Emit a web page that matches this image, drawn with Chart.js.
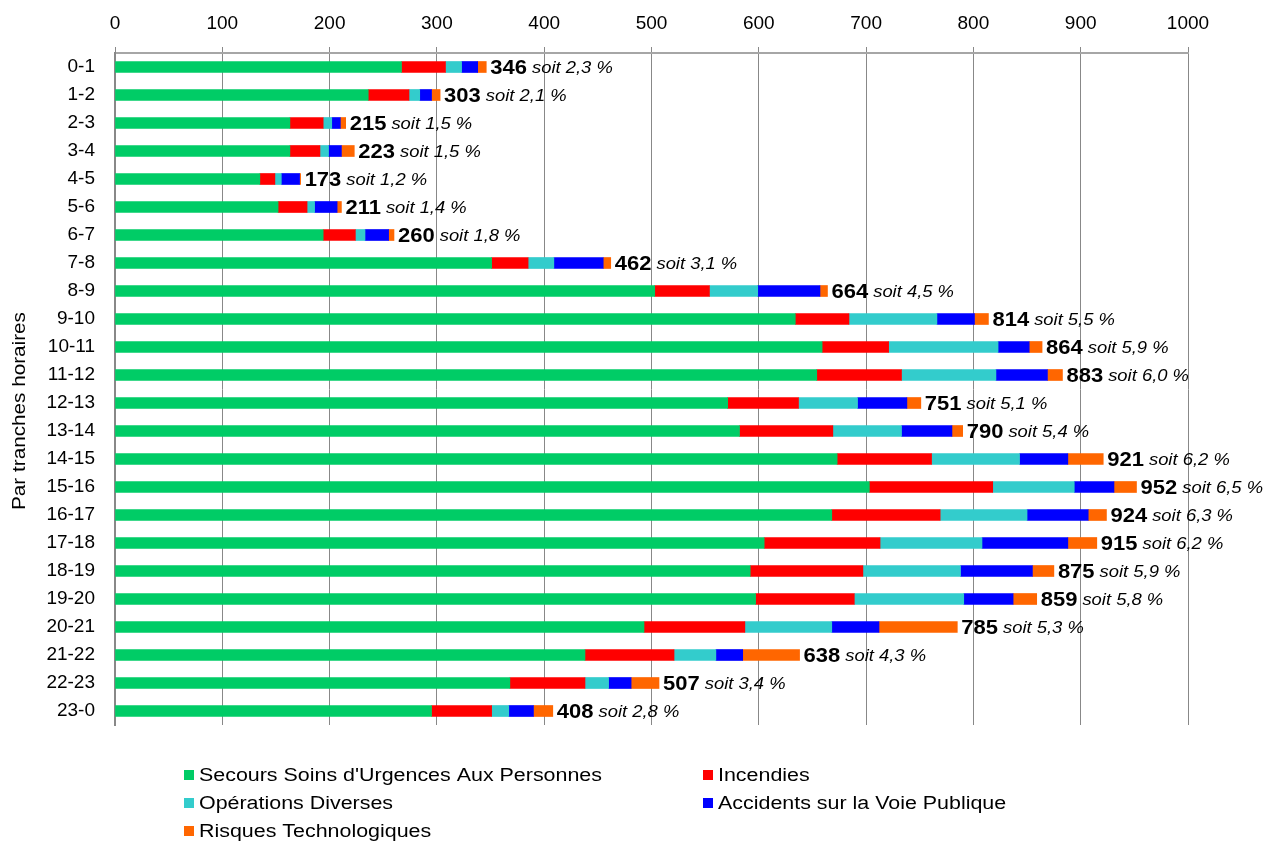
<!DOCTYPE html>
<html>
<head>
<meta charset="utf-8">
<script src="https://cdn.jsdelivr.net/npm/chart.js@4/dist/chart.umd.min.js"></script>
<style>
  html, body { margin: 0; padding: 0; background: #ffffff; }
  #wrap { width: 1268px; height: 844px; }
</style>
</head>
<body>
<div id="wrap"><canvas id="c" width="1268" height="844"></canvas></div>
<script>
// Tranches horaires (une barre par heure)
const tranches = ['0-1','1-2','2-3','3-4','4-5','5-6','6-7','7-8','8-9','9-10','10-11','11-12',
                  '12-13','13-14','14-15','15-16','16-17','17-18','18-19','19-20','20-21','21-22','22-23','23-0'];

// Nombre d'interventions par nature
const secours    = [267,236,163,163,135,152,194,351,503,634,659,654,571,582,673,703,668,605,592,597,493,438,368,295];
const incendies  = [ 41, 38, 31, 28, 14, 27, 30, 34, 51, 50, 62, 79, 66, 87, 88,115,101,108,105, 92, 94, 83, 70, 56];
const operations = [ 15, 10,  8,  8,  6,  7,  9, 24, 45, 82,102, 88, 55, 64, 82, 76, 81, 95, 91,102, 81, 39, 22, 16];
const accidents  = [ 15, 11,  8, 12, 17, 21, 22, 46, 58, 35, 29, 48, 46, 47, 45, 37, 57, 80, 67, 46, 44, 25, 21, 23];
const risques    = [  8,  8,  5, 12,  1,  4,  5,  7,  7, 13, 12, 14, 13, 10, 33, 21, 17, 27, 20, 22, 73, 53, 26, 18];

// Part de chaque tranche dans le total annuel (%)
const parts = ['2,3','2,1','1,5','1,5','1,2','1,4','1,8','3,1','4,5','5,5','5,9','6,0',
               '5,1','5,4','6,2','6,5','6,3','6,2','5,9','5,8','5,3','4,3','3,4','2,8'];

// Graduations de l'axe des valeurs
const xMin = 0, xMax = 1000, xStep = 100;

const natures = [
  { label: "Secours Soins d'Urgences Aux Personnes", data: secours,    color: '#00CC66' },
  { label: 'Incendies',                              data: incendies,  color: '#FF0000' },
  { label: 'Opérations Diverses',                    data: operations, color: '#33CCCC' },
  { label: 'Accidents sur la Voie Publique',         data: accidents,  color: '#0000FF' },
  { label: 'Risques Technologiques',                 data: risques,    color: '#FF6600' }
];

const FONT = "'Liberation Sans', Arial, sans-serif";

// Texte légèrement élargi horizontalement ; renvoie la largeur occupée
function wideText(ctx, txt, x, y, sx) {
  const w = ctx.measureText(txt).width;
  ctx.save();
  ctx.translate(x, y);
  ctx.scale(sx, 1);
  ctx.fillText(txt, 0, 0);
  ctx.restore();
  return w * sx;
}

// Totaux, étiquettes de fin de barre, légende et titre vertical
const decorations = {
  id: 'decorations',
  afterDatasetsDraw(chart) {
    const ctx = chart.ctx;
    const last = chart.getDatasetMeta(chart.data.datasets.length - 1);
    ctx.save();
    ctx.textBaseline = 'middle';
    ctx.textAlign = 'left';
    ctx.fillStyle = '#000';
    tranches.forEach((t, i) => {
      const total = chart.data.datasets.reduce((s, d) => s + d.data[i], 0);
      const bar = last.data[i];
      const xEnd = chart.scales.x.getPixelForValue(total);
      const y = bar.y + 1;
      ctx.font = 'bold 20px ' + FONT;
      const w = wideText(ctx, String(total), xEnd + 4, y, 1.1);
      ctx.font = 'italic 16px ' + FONT;
      wideText(ctx, 'soit ' + parts[i] + ' %', xEnd + 4 + w + 5, y + 1, 1.15);
    });
    ctx.restore();
  },
  afterDraw(chart) {
    const ctx = chart.ctx;
    ctx.save();
    // titre de l'axe vertical
    ctx.fillStyle = '#000';
    ctx.font = '18px ' + FONT;
    ctx.textAlign = 'left';
    ctx.textBaseline = 'middle';
    ctx.translate(20, 411);
    ctx.rotate(-Math.PI / 2);
    const tw = ctx.measureText('Par tranches horaires').width * 1.15;
    wideText(ctx, 'Par tranches horaires', -tw / 2, 0, 1.15);
    ctx.restore();

    // légende sur deux colonnes
    const cols = [184, 703];
    const rows = [775, 803, 831];
    ctx.save();
    ctx.font = '18px ' + FONT;
    ctx.textBaseline = 'middle';
    ctx.textAlign = 'left';
    chart.data.datasets.forEach((d, k) => {
      const cx = cols[k % 2];
      const cy = rows[Math.floor(k / 2)];
      ctx.fillStyle = d.backgroundColor;
      ctx.fillRect(cx, cy - 5, 10, 10);
      ctx.fillStyle = '#000';
      wideText(ctx, d.label, cx + 15, cy + 1, 1.19);
    });
    ctx.restore();
  }
};

new Chart(document.getElementById('c'), {
  type: 'bar',
  data: {
    labels: tranches,
    datasets: natures.map(n => ({
      label: n.label,
      data: n.data,
      backgroundColor: n.color,
      borderWidth: 0,
      barThickness: 11
    }))
  },
  options: {
    indexAxis: 'y',
    responsive: false,
    animation: false,
    devicePixelRatio: 1,
    layout: { padding: { left: 0, top: 0, right: 80, bottom: 119 } },
    plugins: { legend: { display: false }, tooltip: { enabled: false } },
    scales: {
      x: {
        position: 'top',
        stacked: true,
        min: xMin,
        max: xMax,
        ticks: {
          stepSize: xStep,
          color: '#000',
          font: { family: FONT, size: 19 },
          padding: 12,
          callback: v => String(v)
        },
        grid: { color: '#888888', lineWidth: 1, tickLength: 6, drawTicks: true },
        border: { display: true, color: '#a6a6a6', width: 2 },
        afterFit(s) { s.height = 53; }
      },
      y: {
        stacked: true,
        ticks: { color: '#000', font: { family: FONT, size: 19 }, padding: 20 },
        grid: { display: false, drawTicks: false },
        border: { display: true, color: '#888888', width: 2 },
        afterFit(s) { s.width = 115; }
      }
    }
  },
  plugins: [decorations]
});
</script>
</body>
</html>
